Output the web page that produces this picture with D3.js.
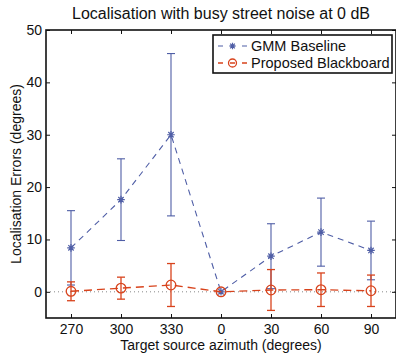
<!DOCTYPE html>
<html>
<head>
<meta charset="utf-8">
<script src="https://cdn.jsdelivr.net/npm/d3@7"></script>
<style>
  html, body { margin: 0; padding: 0; background: #fff; }
  svg { display: block; font-family: "Liberation Sans", Arial, Helvetica, sans-serif; }
</style>
</head>
<body>
<svg id="chart" width="396" height="353"></svg>
<script>
// Azimuth categories and localisation error statistics (mean ± std, degrees)
const azimuths = ["270", "300", "330", "0", "30", "60", "90"];
const gmmMean = [8.4, 17.6, 30.0, 0.0, 6.8, 11.4, 7.9];
const gmmStd = [7.1, 7.8, 15.5, 0.0, 6.2, 6.5, 5.6];
const bbMean = [0.1, 0.7, 1.3, 0.0, 0.35, 0.4, 0.2];
const bbStd = [1.8, 2.1, 4.1, 0.0, 3.9, 3.2, 3.0];
const yTicks = [0, 10, 20, 30, 40, 50];
const seriesNames = ["GMM Baseline", "Proposed Blackboard"];

const blue = "#4f5ea6";
const red = "#d8431c";

const svg = d3.select("#chart");
const m = { left: 46, right: 396, top: 30, bottom: 318 };

const x = d3.scaleLinear().domain([0.5, azimuths.length + 0.5]).range([m.left, m.right]);
const y = d3.scaleLinear().domain([-5, 50]).range([m.bottom, m.top]);
const xi = i => x(i + 1);

// Title
svg.append("text")
  .attr("x", (m.left + m.right) / 2).attr("y", 18.5)
  .attr("text-anchor", "middle").attr("font-size", 16).attr("fill", "#111")
  .text("Localisation with busy street noise at 0 dB");

// Zero reference line
svg.append("line")
  .attr("x1", m.left).attr("x2", m.right)
  .attr("y1", y(0)).attr("y2", y(0))
  .attr("stroke", "#888").attr("stroke-width", 1)
  .attr("stroke-dasharray", "1,3");

// Axes (ticks inward on all four sides)
const xAxisBottom = d3.axisBottom(x)
  .tickValues(d3.range(1, azimuths.length + 1))
  .tickFormat(d => azimuths[d - 1])
  .tickSizeInner(-4).tickSizeOuter(0).tickPadding(6);
const xAxisTop = d3.axisTop(x)
  .tickValues(d3.range(1, azimuths.length + 1))
  .tickFormat("")
  .tickSizeInner(-4).tickSizeOuter(0);
const yAxisLeft = d3.axisLeft(y)
  .tickValues(yTicks).tickFormat(d3.format("d"))
  .tickSizeInner(-4).tickSizeOuter(0).tickPadding(4);
const yAxisRight = d3.axisRight(y)
  .tickValues(yTicks).tickFormat("")
  .tickSizeInner(-4).tickSizeOuter(0);

function styleAxis(g) {
  g.select(".domain").remove();
  g.selectAll(".tick line").attr("stroke", "#111").attr("stroke-width", 1);
  g.selectAll(".tick text").attr("fill", "#111").attr("font-size", 14)
    .attr("font-family", "Liberation Sans, Arial, sans-serif");
}

svg.append("g").attr("transform", `translate(0,${m.bottom})`).call(xAxisBottom).call(styleAxis);
svg.append("g").attr("transform", `translate(0,${m.top})`).call(xAxisTop).call(styleAxis);
svg.append("g").attr("transform", `translate(${m.left},0)`).call(yAxisLeft).call(styleAxis);
svg.append("g").attr("transform", `translate(${m.right},0)`).call(yAxisRight).call(styleAxis);

// Plot frame
svg.append("rect")
  .attr("x", m.left).attr("y", m.top)
  .attr("width", m.right - m.left).attr("height", m.bottom - m.top)
  .attr("fill", "none").attr("stroke", "#111").attr("stroke-width", 1.6);

// Axis labels
svg.append("text")
  .attr("x", (m.left + m.right) / 2).attr("y", 350)
  .attr("text-anchor", "middle").attr("font-size", 14).attr("fill", "#111")
  .text("Target source azimuth (degrees)");
svg.append("text")
  .attr("transform", `translate(21,${(m.top + m.bottom) / 2}) rotate(-90)`)
  .attr("text-anchor", "middle").attr("font-size", 14).attr("fill", "#111")
  .text("Localisation Errors (degrees)");

const line = d3.line().x((d, i) => xi(i)).y(d => y(d));

function drawErrorBars(means, stds, color, width) {
  const g = svg.append("g").attr("stroke", color).attr("stroke-width", width).attr("fill", "none");
  means.forEach((mu, i) => {
    if (stds[i] <= 0) return;
    const cx = xi(i), lo = y(mu - stds[i]), hi = y(mu + stds[i]);
    g.append("line").attr("x1", cx).attr("x2", cx).attr("y1", lo).attr("y2", hi);
    g.append("line").attr("x1", cx - 4).attr("x2", cx + 4).attr("y1", lo).attr("y2", lo);
    g.append("line").attr("x1", cx - 4).attr("x2", cx + 4).attr("y1", hi).attr("y2", hi);
  });
}

function asterisk(g, cx, cy, r, color) {
  const a = r * Math.SQRT1_2;
  const p = `M${cx - r},${cy}H${cx + r}M${cx},${cy - r}V${cy + r}` +
            `M${cx - a},${cy - a}L${cx + a},${cy + a}M${cx - a},${cy + a}L${cx + a},${cy - a}`;
  g.append("path").attr("d", p).attr("stroke", color).attr("stroke-width", 1.2).attr("fill", "none");
}

// GMM baseline series
drawErrorBars(gmmMean, gmmStd, blue, 1.1);
svg.append("path").datum(gmmMean).attr("d", line)
  .attr("fill", "none").attr("stroke", blue).attr("stroke-width", 1.1)
  .attr("stroke-dasharray", "6,5");
const gm = svg.append("g");
gmmMean.forEach((v, i) => asterisk(gm, xi(i), y(v), 3.8, blue));

// Proposed blackboard series
drawErrorBars(bbMean, bbStd, red, 1.3);
svg.append("path").datum(bbMean).attr("d", line)
  .attr("fill", "none").attr("stroke", red).attr("stroke-width", 1.4)
  .attr("stroke-dasharray", "8,5");
svg.append("g").selectAll("circle").data(bbMean).join("circle")
  .attr("cx", (d, i) => xi(i)).attr("cy", d => y(d)).attr("r", 4.8)
  .attr("fill", "none").attr("stroke", red).attr("stroke-width", 1.3);

// Legend
const lg = svg.append("g");
lg.append("rect").attr("x", 213).attr("y", 35).attr("width", 179).attr("height", 38)
  .attr("fill", "#fff").attr("stroke", "#111").attr("stroke-width", 1.6);
const legendRows = [
  { name: seriesNames[0], color: blue, cy: 46 },
  { name: seriesNames[1], color: red, cy: 63 }
];
legendRows.forEach((r, k) => {
  lg.append("line").attr("x1", 218).attr("x2", 247).attr("y1", r.cy).attr("y2", r.cy)
    .attr("stroke", r.color).attr("stroke-width", k ? 1.4 : 1.1).attr("stroke-dasharray", "5,7");
  if (k === 0) asterisk(lg, 232.5, r.cy, 3.3, r.color);
  else lg.append("circle").attr("cx", 232.5).attr("cy", r.cy).attr("r", 4)
    .attr("fill", "none").attr("stroke", r.color).attr("stroke-width", 1.3);
  lg.append("text").attr("x", 251).attr("y", r.cy + 5).attr("font-size", 14.5).attr("fill", "#111")
    .text(r.name);
});
</script>
</body>
</html>
